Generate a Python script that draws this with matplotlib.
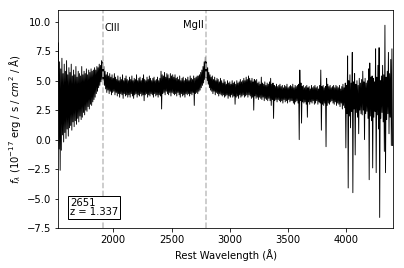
import numpy as np
import matplotlib
matplotlib.use('Agg')
import matplotlib.pyplot as plt

# spectrum of object 2651:
# highest and lowest flux in each 10 A bin (rows of 100 A)
wave = np.arange(1530, 4400, 10)
flux_hi = [
    8.2, 6.6, 6.0, 6.9, 5.6, 6.4, 5.8, 6.7, 5.5, 6.1,
    5.7, 6.4, 5.4, 5.9, 5.5, 6.2, 5.3, 5.8, 5.6, 5.4,
    6.2, 5.5, 5.8, 5.6, 6.0, 5.5, 5.9, 5.7, 6.0, 5.8,
    5.9, 6.1, 5.9, 6.2, 6.1, 6.4, 6.3, 6.7, 6.6, 6.2,
    5.8, 5.5, 5.7, 5.4, 5.6, 5.3, 5.5, 5.2, 5.6, 5.3,
    5.1, 5.4, 5.0, 5.3, 5.1, 5.5, 5.0, 5.2, 5.4, 5.1,
    5.0, 5.3, 5.1, 5.4, 5.0, 5.2, 5.1, 5.5, 5.0, 5.2,
    5.3, 5.0, 5.2, 5.5, 5.1, 5.0, 5.3, 5.1, 5.4, 5.2,
    5.0, 5.2, 5.3, 5.0, 5.1, 5.3, 5.0, 5.2, 5.8, 5.5,
    5.4, 5.7, 5.3, 5.6, 5.5, 5.2, 5.6, 5.4, 5.5, 5.3,
    5.5, 5.2, 5.3, 5.1, 5.4, 5.0, 5.2, 5.3, 5.0, 5.2,
    5.1, 5.3, 5.0, 5.4, 5.2, 5.1, 5.4, 5.2, 5.3, 5.4,
    5.4, 5.5, 5.7, 5.9, 6.2, 6.6, 7.0, 6.6, 6.1, 5.7,
    5.5, 5.3, 5.4, 5.1, 5.3, 5.0, 5.2, 5.1, 4.9, 5.2,
    5.0, 4.8, 5.1, 4.9, 4.7, 5.0, 4.8, 4.9, 4.7, 5.0,
    4.8, 4.9, 4.7, 5.0, 4.8, 4.9, 5.1, 4.9, 5.0, 5.2,
    5.0, 5.3, 5.1, 5.4, 5.2, 5.0, 5.2, 4.9, 5.1, 5.0,
    5.1, 4.8, 4.9, 4.7, 5.3, 4.8, 4.7, 4.9, 4.6, 4.8,
    4.7, 4.9, 5.2, 4.7, 4.8, 4.6, 4.5, 4.7, 4.5, 4.6,
    4.7, 4.5, 4.6, 4.4, 4.6, 4.5, 4.7, 4.4, 4.5, 4.6,
    4.5, 4.7, 4.4, 4.6, 4.5, 4.6, 4.7, 5.9, 4.8, 4.5,
    4.6, 4.4, 4.5, 4.6, 4.4, 4.5, 4.3, 4.6, 4.4, 4.5,
    4.6, 4.4, 4.5, 4.3, 4.6, 5.9, 4.5, 4.6, 4.4, 4.5,
    5.2, 4.7, 4.5, 4.6, 4.4, 4.5, 4.6, 4.4, 4.6, 4.5,
    4.4, 4.6, 4.3, 4.5, 4.7, 4.4, 4.8, 4.6, 7.1, 5.0,
    5.5, 4.8, 7.4, 4.9, 5.6, 4.7, 5.0, 4.6, 5.2, 4.8,
    5.1, 5.8, 4.9, 5.2, 4.8, 5.0, 6.0, 6.5, 5.3, 5.4,
    5.2, 4.9, 7.7, 5.3, 6.3, 7.8, 5.0, 5.4, 6.3, 5.5,
    9.7, 5.3, 5.8, 7.4, 5.6, 6.8, 7.7]
flux_lo = [
    -0.8, -2.6, -0.9, 0.4, -0.2, 0.6, 0.1, 0.9, 0.3, 1.0,
    1.2, 0.8, 1.5, 1.1, 1.6, 1.3, 1.8, 1.5, 2.0, 1.7,
    1.9, 2.3, 2.1, 2.5, 2.4, 2.8, 2.6, 3.0, 2.9, 3.2,
    3.4, 3.6, 3.9, 4.1, 4.4, 4.6, 4.9, 5.1, 5.0, 4.6,
    4.3, 4.0, 4.2, 3.9, 4.1, 3.8, 4.0, 4.1, 3.8, 4.0,
    3.7, 3.9, 3.6, 3.9, 3.8, 3.5, 3.9, 3.7, 3.8, 3.6,
    3.8, 3.6, 3.9, 3.7, 3.5, 3.8, 3.9, 3.6, 3.8, 3.7,
    3.9, 3.7, 3.8, 3.3, 3.8, 3.9, 3.6, 3.8, 3.7, 3.9,
    3.8, 3.6, 3.9, 3.7, 3.8, 3.6, 3.8, 3.7, 2.6, 3.9,
    4.0, 3.8, 4.1, 3.9, 3.8, 4.0, 3.7, 4.0, 3.9, 3.8,
    3.9, 3.7, 4.0, 3.8, 3.6, 3.9, 3.7, 3.8, 3.6, 3.9,
    3.8, 3.9, 3.7, 3.9, 3.8, 4.0, 2.9, 3.9, 4.0, 3.9,
    4.1, 4.2, 4.4, 4.6, 4.8, 5.1, 5.3, 5.0, 4.7, 4.4,
    4.2, 4.1, 3.9, 4.1, 3.8, 4.0, 3.9, 3.7, 3.9, 3.8,
    3.7, 3.8, 3.6, 3.7, 3.8, 3.5, 3.7, 3.6, 3.8, 3.6,
    3.7, 3.0, 3.6, 3.7, 3.5, 3.8, 3.6, 3.7, 3.8, 3.6,
    3.7, 3.8, 3.6, 3.8, 3.7, 3.5, 3.6, 2.5, 3.7, 3.5,
    3.6, 3.4, 3.6, 3.5, 3.4, 3.6, 3.3, 3.5, 3.4, 3.3,
    3.5, 3.3, 2.9, 3.4, 1.8, 3.3, 3.4, 3.2, 3.4, 3.3,
    3.2, 3.3, 3.1, 3.4, 3.2, 3.3, 3.1, 3.4, 3.2, 3.3,
    3.3, 3.1, 3.0, 3.2, 3.3, 3.1, 0.0, 3.3, 1.4, 3.2,
    3.1, 3.2, 3.0, 1.9, 3.2, 3.0, 3.2, 3.1, 3.3, 3.0,
    3.1, 3.3, 3.0, 3.2, 3.1, 0.8, 3.0, 2.9, 3.1, -0.6,
    2.9, 3.1, 3.0, 3.2, 3.3, 3.1, 3.0, 3.2, 2.9, 3.1,
    3.0, 2.8, 3.1, 2.6, 2.9, 2.7, -0.7, 2.2, -4.1, 2.0,
    1.0, 2.4, -4.5, 2.6, -1.3, 2.3, 1.9, 0.5, 2.5, 2.2,
    2.1, 2.5, 0.0, 2.2, 2.4, 1.8, -3.4, 2.0, 1.6, -2.4,
    1.9, 2.4, -2.8, 2.1, 0.9, -6.6, 1.8, 2.3, 1.5, -1.0,
    -2.8, 1.7, 2.2, 0.5, 1.9, -0.5, -0.5]

lines = [1909, 2799]
line_names = ['CIII', 'MgII']
obj_id = 2651
z = 1.337

# trace each bin top -> bottom like a dense spectrum
x = np.ravel(np.column_stack([wave, wave + 5]))
y = np.ravel(np.column_stack([flux_hi, flux_lo]))

fig, ax = plt.subplots(figsize=(404 / 72, 268 / 72), dpi=72)
fig.subplots_adjust(left=0.144, right=0.973, bottom=0.149, top=0.963)

ax.plot(x, y, color='k', lw=0.9)
for l in lines:
    ax.axvline(l, color='0.75', ls='--', lw=1.5)
ax.text(1925, 9.5, line_names[0], va='center', ha='left')
ax.text(2780, 9.75, line_names[1], va='center', ha='right')

ax.text(0.035, 0.05, '%d\nz = %.3f' % (obj_id, z), transform=ax.transAxes,
        va='bottom', ha='left', linespacing=0.95,
        bbox=dict(facecolor='white', edgecolor='k', boxstyle='square,pad=0.2'))

ax.set_xlim(1528, 4400)
ax.set_ylim(-7.5, 11)
ax.set_yticks(np.arange(-7.5, 10.1, 2.5))
ax.set_xlabel('Rest Wavelength (Å)')
ax.set_ylabel(r'$f_\lambda$ ($10^{-17}$ erg / s / $cm^2$ / Å)')

plt.savefig('out.png', dpi=72)
